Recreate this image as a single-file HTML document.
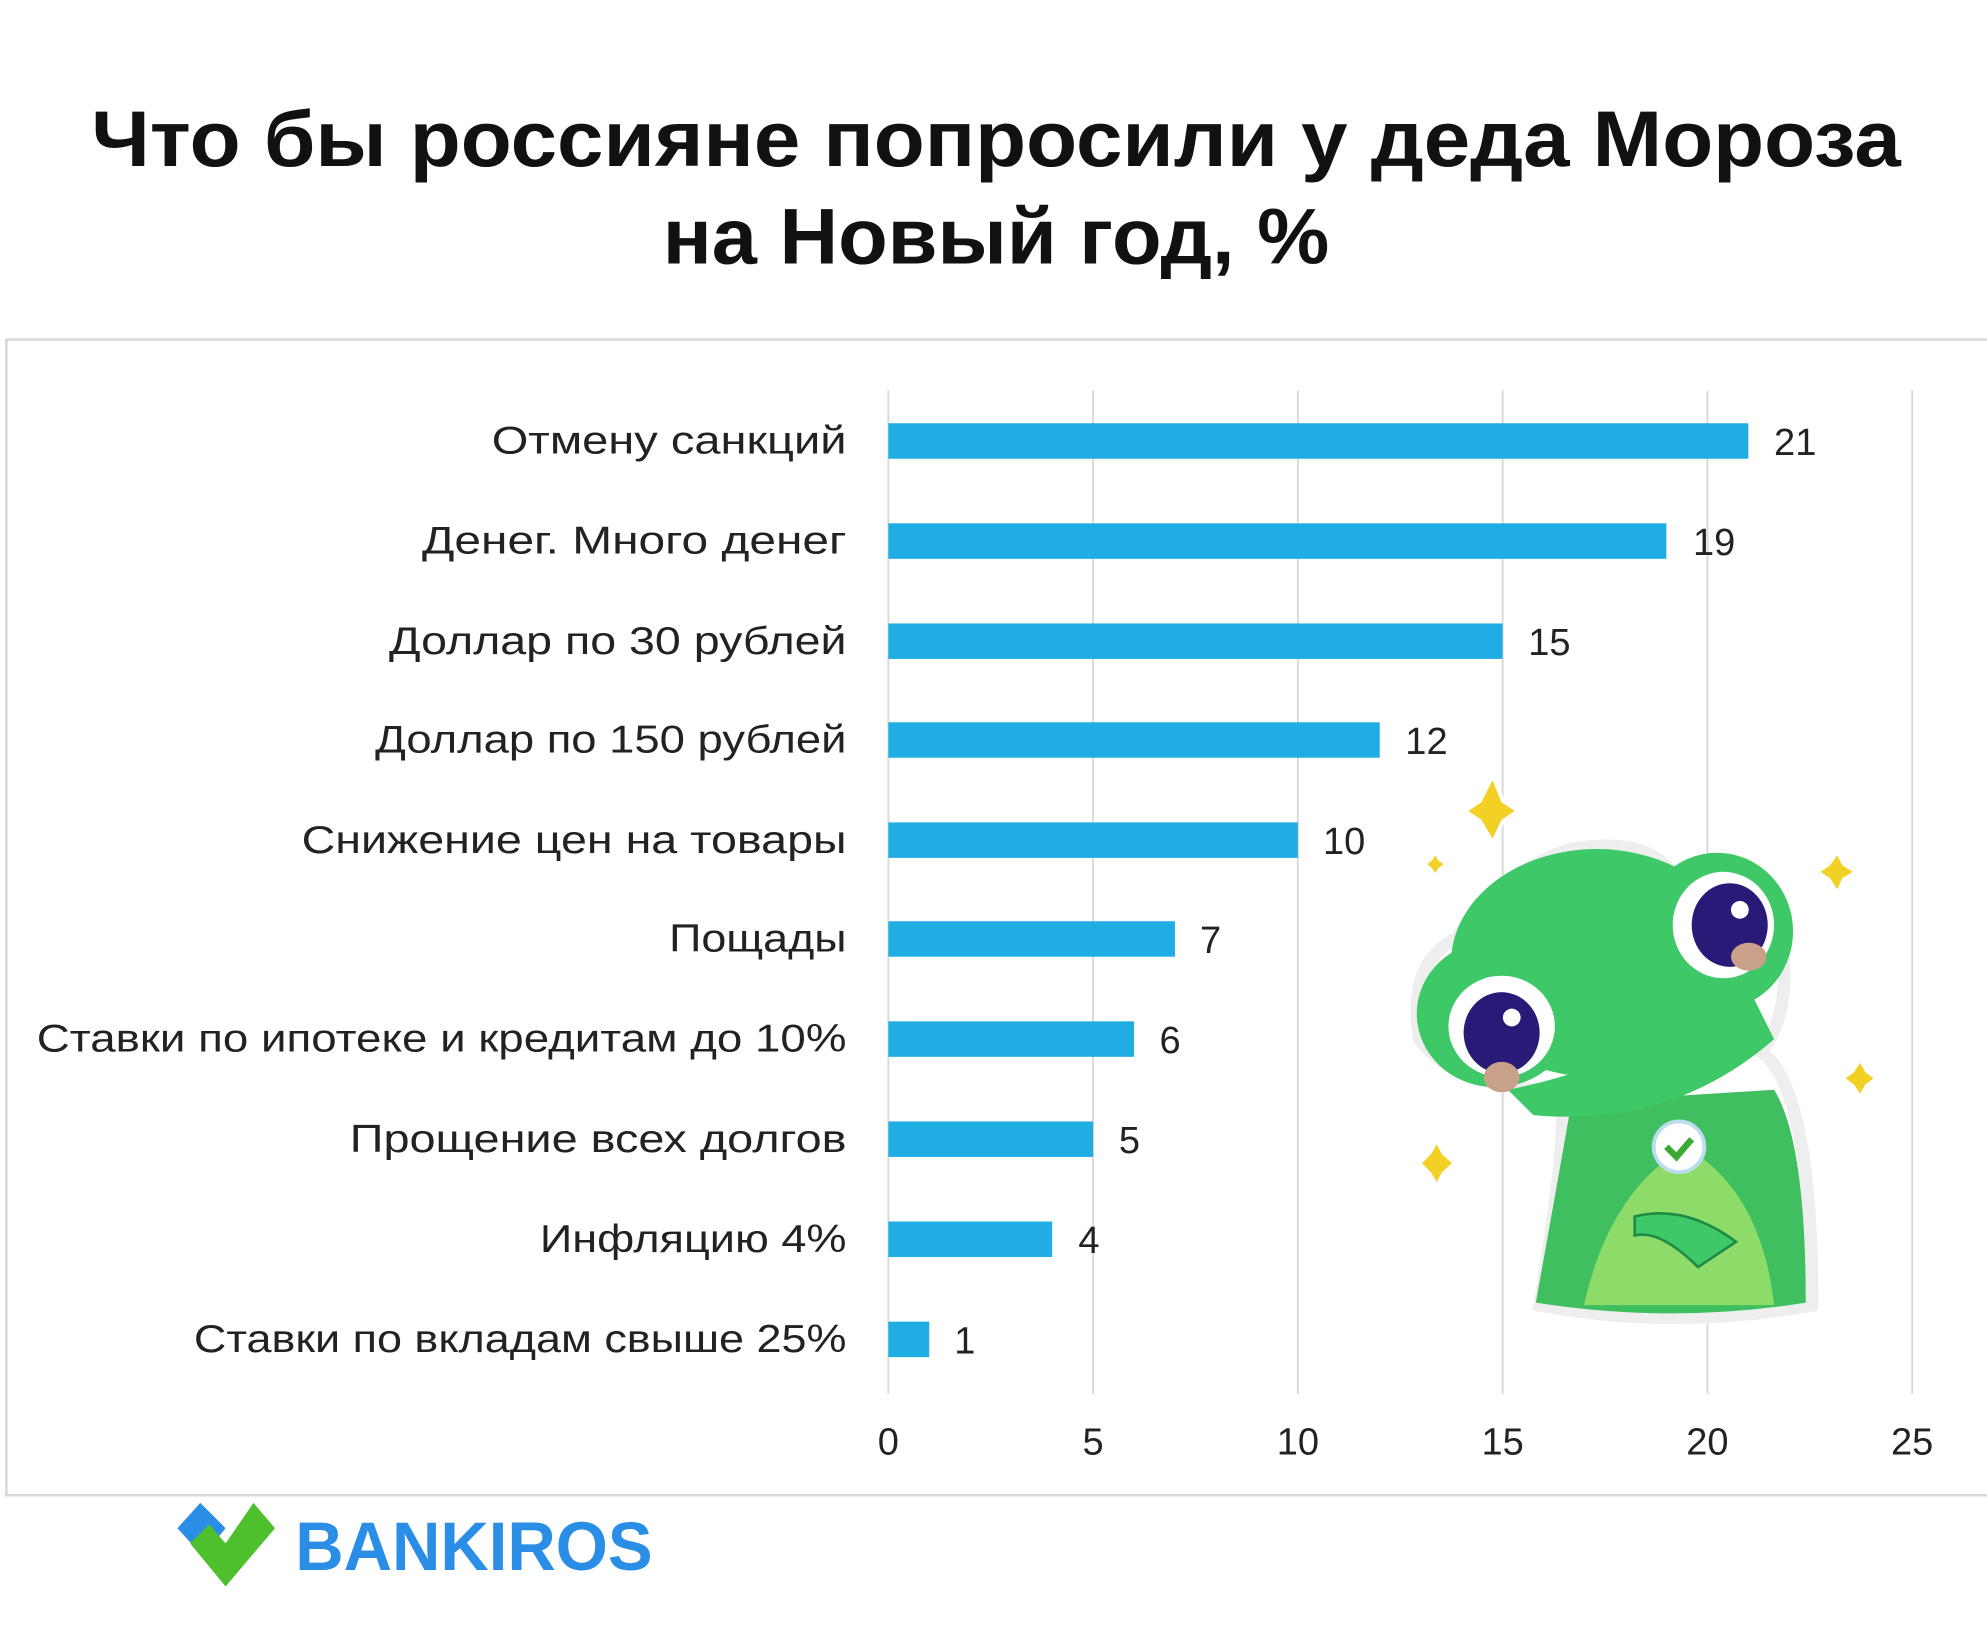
<!DOCTYPE html>
<html><head><meta charset="utf-8"><style>html,body{margin:0;padding:0;background:#fff}svg{display:block}</style></head><body>
<svg width="1987" height="1643" viewBox="0 0 1568 1296.6" xmlns="http://www.w3.org/2000/svg" font-family="Liberation Sans, sans-serif">
<rect width="1568" height="1297" fill="#fff"/>
<text x="786" y="131" text-anchor="middle" font-size="62" font-weight="bold" fill="#111" textLength="1428" lengthAdjust="spacingAndGlyphs">Что бы россияне попросили у деда Мороза</text>
<text x="786" y="208" text-anchor="middle" font-size="62" font-weight="bold" fill="#111" textLength="526" lengthAdjust="spacingAndGlyphs">на Новый год, %</text>
<rect x="5" y="268" width="1570" height="912" fill="none" stroke="#d8d8d8" stroke-width="2"/>
<g stroke="#d9d9d9" stroke-width="1.5">
<line x1="701" y1="308" x2="701" y2="1100"/><line x1="862.6" y1="308" x2="862.6" y2="1100"/><line x1="1024.2" y1="308" x2="1024.2" y2="1100"/><line x1="1185.8" y1="308" x2="1185.8" y2="1100"/><line x1="1347.4" y1="308" x2="1347.4" y2="1100"/><line x1="1509" y1="308" x2="1509" y2="1100"/>
</g>
<g fill="#1fade3">
<rect x="701" y="334" width="678.7" height="28"/>
<rect x="701" y="413" width="614" height="28"/>
<rect x="701" y="492" width="484.8" height="28"/>
<rect x="701" y="570" width="387.8" height="28"/>
<rect x="701" y="649" width="323.2" height="28"/>
<rect x="701" y="727" width="226.2" height="28"/>
<rect x="701" y="806" width="193.9" height="28"/>
<rect x="701" y="885" width="161.6" height="28"/>
<rect x="701" y="964" width="129.3" height="28"/>
<rect x="701" y="1043" width="32.3" height="28"/>
</g>
<g font-size="31" fill="#222" text-anchor="end">
<text x="668" y="358" textLength="280" lengthAdjust="spacingAndGlyphs">Отмену санкций</text>
<text x="668" y="437" textLength="335" lengthAdjust="spacingAndGlyphs">Денег. Много денег</text>
<text x="668" y="516" textLength="361" lengthAdjust="spacingAndGlyphs">Доллар по 30 рублей</text>
<text x="668" y="594" textLength="372" lengthAdjust="spacingAndGlyphs">Доллар по 150 рублей</text>
<text x="668" y="673" textLength="430" lengthAdjust="spacingAndGlyphs">Снижение цен на товары</text>
<text x="668" y="751" textLength="140" lengthAdjust="spacingAndGlyphs">Пощады</text>
<text x="668" y="830" textLength="639" lengthAdjust="spacingAndGlyphs">Ставки по ипотеке и кредитам до 10%</text>
<text x="668" y="909" textLength="392" lengthAdjust="spacingAndGlyphs">Прощение всех долгов</text>
<text x="668" y="988" textLength="242" lengthAdjust="spacingAndGlyphs">Инфляцию 4%</text>
<text x="668" y="1067" textLength="515" lengthAdjust="spacingAndGlyphs">Ставки по вкладам свыше 25%</text>
</g>
<g font-size="30" fill="#222">
<text x="1400" y="359">21</text><text x="1336" y="438">19</text><text x="1206" y="517">15</text><text x="1109" y="595">12</text><text x="1044" y="674">10</text><text x="947" y="752">7</text><text x="915" y="831">6</text><text x="883" y="910">5</text><text x="851" y="989">4</text><text x="753" y="1068">1</text>
</g>
<g font-size="30" fill="#222" text-anchor="middle">
<text x="701" y="1148">0</text><text x="862.6" y="1148">5</text><text x="1024.2" y="1148">10</text><text x="1185.8" y="1148">15</text><text x="1347.4" y="1148">20</text><text x="1509" y="1148">25</text>
</g>
<!-- frog -->
<g>
<path d="M1215,1030 Q1240,880 1230,860 Q1150,860 1120,820 Q1110,760 1150,740 Q1180,690 1240,670 Q1300,660 1320,690 Q1370,680 1400,720 Q1420,790 1390,830 Q1430,860 1430,1030 Q1320,1050 1215,1030 Z" fill="#fff" stroke="#eee" stroke-width="10"/>
<path d="M1212,1028 Q1235,900 1240,870 L1400,860 Q1425,900 1425,1028 Q1320,1045 1212,1028 Z" fill="#3fbf5f"/>
<path d="M1250,1030 Q1270,940 1330,905 Q1390,940 1400,1030 Z" fill="#8ddc6a"/>
<ellipse cx="1260" cy="760" rx="115" ry="90" fill="#3ec868"/>
<ellipse cx="1355" cy="735" rx="60" ry="62" fill="#3ec868"/>
<ellipse cx="1180" cy="800" rx="62" ry="58" fill="#3ec868"/>
<path d="M1190,860 Q1290,840 1380,780 L1400,820 Q1320,890 1210,880 Z" fill="#3ec868"/>
<ellipse cx="1360" cy="730" rx="40" ry="42" fill="#fff"/>
<ellipse cx="1365" cy="730" rx="30" ry="33" fill="#2a1a78"/>
<ellipse cx="1185" cy="810" rx="42" ry="40" fill="#fff"/>
<ellipse cx="1185" cy="815" rx="30" ry="32" fill="#2a1a78"/>
<circle cx="1373" cy="718" r="7" fill="#fff"/><circle cx="1193" cy="803" r="7" fill="#fff"/>
<ellipse cx="1380" cy="755" rx="14" ry="11" fill="#c9a08a"/>
<ellipse cx="1185" cy="850" rx="14" ry="12" fill="#c9a08a"/>
<path d="M1290,960 Q1330,950 1370,980 L1340,1000 Q1310,970 1290,975 Z" fill="#3ec868" stroke="#1f8a45" stroke-width="2"/>
<circle cx="1325" cy="905" r="20" fill="#fff" stroke="#bde" stroke-width="3"/>
<path d="M1315,905 l8,8 l12,-14" stroke="#3aaa35" stroke-width="5" fill="none"/>
<g fill="#f2d024" stroke="#fff" stroke-width="3">
<path d="M1178,612 L1186,632 L1198,640 L1186,648 L1178,665 L1168,648 L1156,640 L1168,632 Z"/>
<path d="M1450,672 L1455,682 L1465,688 L1455,694 L1450,705 L1443,694 L1434,688 L1443,682 Z"/>
<path d="M1468,836 L1473,845 L1481,851 L1473,857 L1468,866 L1462,857 L1454,851 L1462,845 Z"/>
<path d="M1134,900 L1139,910 L1148,918 L1139,926 L1134,936 L1128,926 L1120,918 L1128,910 Z"/>
<path d="M1133,672 L1136,678 L1142,682 L1136,686 L1133,692 L1129,686 L1124,682 L1129,678 Z"/>
</g>
</g>
<!-- logo -->
<path d="M158,1186 L178,1206 L160,1228 L140,1206 Z" fill="#2b8ee6"/>
<path d="M200,1186 L217,1206 L178,1252 L150,1218 L165,1203 L178,1218 Z" fill="#4ec02e"/>
<text x="233" y="1239" font-size="54" font-weight="bold" fill="#2b8ee6" textLength="282" lengthAdjust="spacingAndGlyphs">BANKIROS</text>
</svg>
</body></html>
